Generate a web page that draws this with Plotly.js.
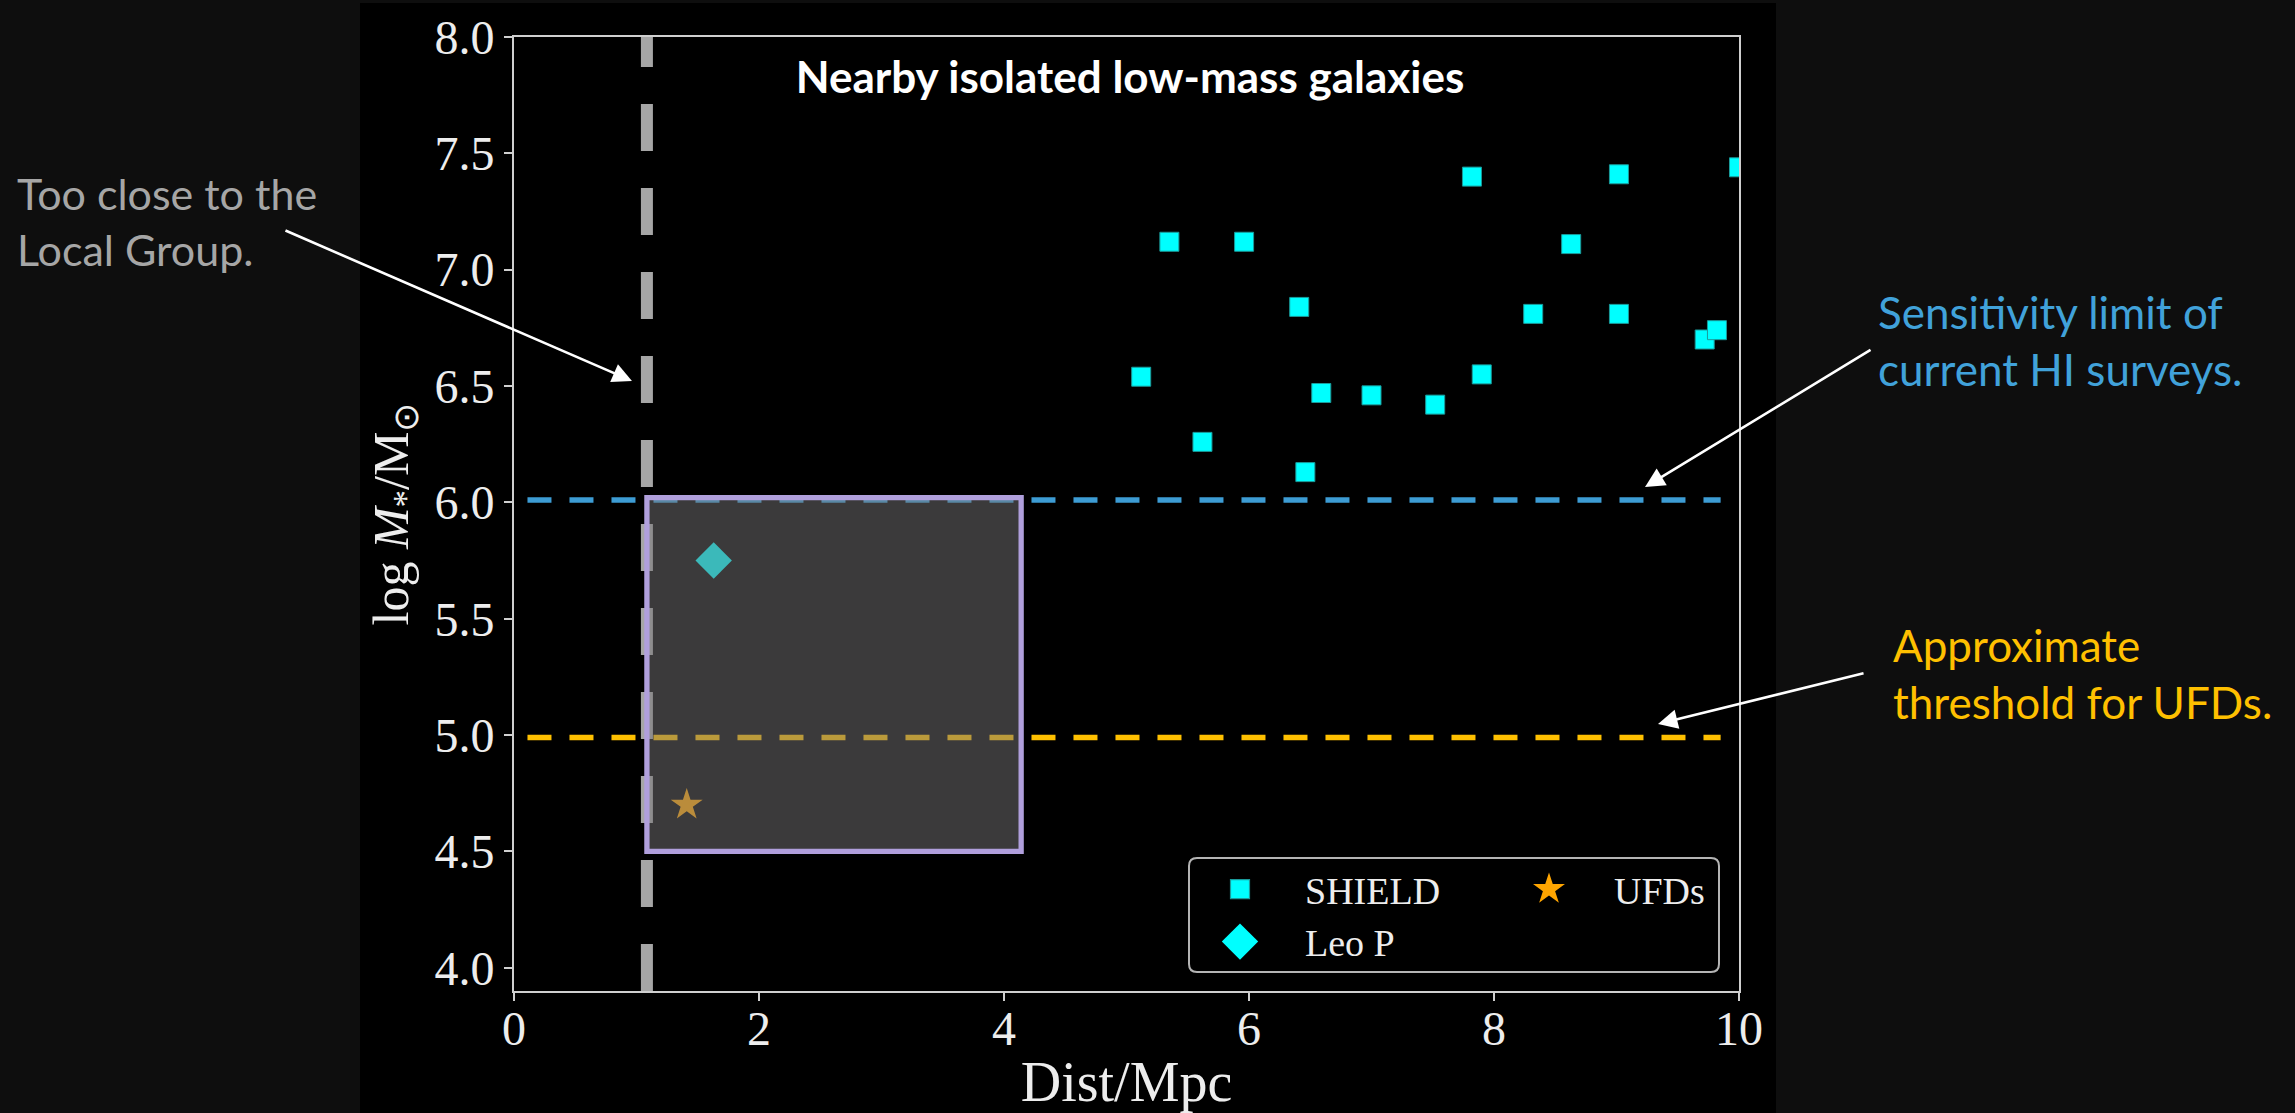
<!DOCTYPE html>
<html>
<head>
<meta charset="utf-8">
<script src="https://cdn.plot.ly/plotly-3.0.1.min.js"></script>
<style>
  html, body { margin: 0; padding: 0; background: #0e0e0e; }
  #chart { width: 2295px; height: 1113px; }
</style>
</head>
<body>
<div id="chart"></div>
<script>
// SHIELD galaxies: distance (Mpc) and log stellar mass (Msun)
const shieldDist = [5.12, 5.35, 5.62, 5.96, 6.41, 6.46, 6.59, 7.00, 7.52, 7.82, 7.90, 8.32, 8.63, 9.02, 9.02, 9.72, 9.82, 10.0];
const shieldLogM = [6.54, 7.12, 6.26, 7.12, 6.84, 6.13, 6.47, 6.46, 6.42, 7.40, 6.55, 6.81, 7.11, 7.41, 6.81, 6.70, 6.74, 7.44];

// Leo P
const leoPDist = [1.63];
const leoPLogM = [5.75];

// ultra-faint dwarfs
const ufdDist = [1.41];
const ufdLogM = [4.70];

// reference limits
const localGroupDist = [1.085, 1.085];
const localGroupSpan = [3.9, 8.3];
const limitDist = [0.11, 9.85];
const hiLimit = [6.01, 6.01];
const ufdLimit = [4.99, 4.99];

// target window: distance and mass bounds
const windowDist = [1.085, 4.14];
const windowLogM = [4.5, 6.02];

// axis ticks
const xTicks = [0, 2, 4, 6, 8, 10];
const yTicks = [4.0, 4.5, 5.0, 5.5, 6.0, 6.5, 7.0, 7.5, 8.0];

// figure geometry (px)
const W = 2295, H = 1113;
const M = { l: 514, r: 556, t: 37, b: 122 };
const PW = W - M.l - M.r, PH = H - M.t - M.b;
const X = v => (v - M.l) / PW;          // pixel column -> paper x
const Y = v => (H - M.b - v) / PH;      // pixel row -> paper y

const serif = 'Liberation Serif, Times New Roman, serif';
const sans = 'Lato, Open Sans, sans-serif';

const traces = [
  {
    x: localGroupDist, y: localGroupSpan, mode: 'lines',
    line: { color: '#a6a6a6', width: 12, dash: '47px,37px' },
    showlegend: false, hoverinfo: 'skip'
  },
  {
    x: limitDist, y: hiLimit, mode: 'lines',
    line: { color: '#3d9cd4', width: 5.5, dash: '24px,18px' },
    showlegend: false, hoverinfo: 'skip'
  },
  {
    x: limitDist, y: ufdLimit, mode: 'lines',
    line: { color: '#ffc000', width: 5.5, dash: '24px,18px' },
    showlegend: false, hoverinfo: 'skip'
  },
  {
    x: shieldDist, y: shieldLogM, mode: 'markers', name: 'SHIELD',
    marker: { symbol: 'square', size: 19, color: '#00ffff', line: { color: '#1a9a9a', width: 1 } },
    legend: 'legend'
  },
  {
    x: leoPDist, y: leoPLogM, mode: 'markers', name: 'Leo P',
    marker: { symbol: 'diamond', size: 28, color: '#00ffff', line: { width: 0 } },
    legend: 'legend'
  },
  {
    x: ufdDist, y: ufdLogM, mode: 'markers', name: 'UFDs',
    marker: { symbol: 'star', size: 24, color: '#ffa500', line: { width: 0 } },
    legend: 'legend2'
  }
];

// rounded legend frame
const fx0 = 1189, fx1 = 1719, fy0 = 858, fy1 = 972, fr = 8;
const framePath =
  `M ${X(fx0 + fr)},${Y(fy0)} L ${X(fx1 - fr)},${Y(fy0)} Q ${X(fx1)},${Y(fy0)} ${X(fx1)},${Y(fy0 + fr)} ` +
  `L ${X(fx1)},${Y(fy1 - fr)} Q ${X(fx1)},${Y(fy1)} ${X(fx1 - fr)},${Y(fy1)} ` +
  `L ${X(fx0 + fr)},${Y(fy1)} Q ${X(fx0)},${Y(fy1)} ${X(fx0)},${Y(fy1 - fr)} ` +
  `L ${X(fx0)},${Y(fy0 + fr)} Q ${X(fx0)},${Y(fy0)} ${X(fx0 + fr)},${Y(fy0)} Z`;

const axisCommon = {
  showgrid: false, zeroline: false,
  showline: true, linecolor: '#cfcfcf', linewidth: 2, mirror: true,
  ticks: 'outside', ticklen: 8, tickwidth: 2, tickcolor: '#cfcfcf',
  tickfont: { family: serif, size: 48, color: '#ededed' }
};

const legendFont = { family: serif, size: 38, color: '#ededed' };

const layout = {
  width: W, height: H,
  margin: M,
  paper_bgcolor: '#0e0e0e',
  plot_bgcolor: '#000000',
  showlegend: true,
  title: {
    text: 'Nearby isolated low-mass galaxies',
    font: { family: sans, size: 44, color: '#ffffff', weight: 'bold' },
    x: X(1130), xref: 'paper', xanchor: 'center',
    y: Y(78), yref: 'paper', yanchor: 'middle'
  },
  xaxis: Object.assign({}, axisCommon, {
    range: [0, 10], tickvals: xTicks, ticklabelstandoff: -14,
    title: { text: 'Dist/Mpc', font: { family: serif, size: 56, color: '#ededed' }, standoff: 32 }
  }),
  yaxis: Object.assign({}, axisCommon, {
    range: [3.9, 8.0], tickvals: yTicks, tickformat: '.1f',
    title: { text: 'log <i>M</i><sub>*</sub>/M<sub>⊙</sub>', font: { family: serif, size: 50, color: '#ededed' }, standoff: 10 }
  }),
  legend: {
    x: X(1175), xanchor: 'left', y: Y(858), yanchor: 'top',
    bgcolor: 'rgba(0,0,0,0)', borderwidth: 0, itemwidth: 120,
    font: legendFont, tracegroupgap: 0
  },
  legend2: {
    x: X(1484), xanchor: 'left', y: Y(858), yanchor: 'top',
    bgcolor: 'rgba(0,0,0,0)', borderwidth: 0, itemwidth: 120,
    font: legendFont
  },
  shapes: [
    // black figure panel
    { type: 'rect', xref: 'paper', yref: 'paper', layer: 'below',
      x0: X(360), x1: X(1776), y0: Y(1113), y1: Y(3),
      fillcolor: '#000000', line: { width: 0 } },
    // target window
    { type: 'rect', xref: 'x', yref: 'y', layer: 'above',
      x0: windowDist[0], x1: windowDist[1], y0: windowLogM[0], y1: windowLogM[1],
      fillcolor: 'rgba(118,116,118,0.5)', line: { color: '#b09fdc', width: 5.3 } },
    // legend frame
    { type: 'path', xref: 'paper', yref: 'paper', layer: 'above',
      path: framePath, fillcolor: '#000000', line: { color: '#b4b4b4', width: 2 } }
  ],
  annotations: [
    { xref: 'paper', yref: 'paper', x: X(15), y: Y(221), xanchor: 'left', yanchor: 'middle', align: 'left',
      showarrow: false, text: 'Too close to the<br>Local Group.',
      font: { family: sans, size: 43, color: '#a6a6a6' } },
    { xref: 'paper', yref: 'paper', x: X(1876), y: Y(340), xanchor: 'left', yanchor: 'middle', align: 'left',
      showarrow: false, text: 'Sensitivity limit of<br>current HI surveys.',
      font: { family: sans, size: 44, color: '#41a2da' } },
    { xref: 'paper', yref: 'paper', x: X(1891), y: Y(673), xanchor: 'left', yanchor: 'middle', align: 'left',
      showarrow: false, text: 'Approximate<br>threshold for UFDs.',
      font: { family: sans, size: 44, color: '#ffc000' } },
    { xref: 'x', yref: 'y', x: 0.963, y: 6.522, text: '', showarrow: true,
      ax: -348, ay: -151, arrowhead: 2, arrowsize: 1.5, arrowwidth: 2.6, arrowcolor: '#ffffff' },
    { xref: 'x', yref: 'y', x: 9.233, y: 6.066, text: '', showarrow: true,
      ax: 227, ay: -138, arrowhead: 2, arrowsize: 1.5, arrowwidth: 2.6, arrowcolor: '#ffffff' },
    { xref: 'x', yref: 'y', x: 9.339, y: 5.048, text: '', showarrow: true,
      ax: 207, ay: -51, arrowhead: 2, arrowsize: 1.5, arrowwidth: 2.6, arrowcolor: '#ffffff' }
  ]
};

Plotly.newPlot('chart', traces, layout, { displayModeBar: false, staticPlot: true }).then(gd => {
  // legend glyphs are capped at 16px; bring them back to the trace marker size
  gd.querySelectorAll('g.traces').forEach(g => {
    const d = g.__data__;
    const tr = d && d[0] && d[0].trace;
    if (!tr || !tr.marker || !tr.marker.size) return;
    const k = tr.marker.size / 16;
    g.querySelectorAll('path.scatterpts').forEach(p => {
      const t = p.getAttribute('transform') || '';
      p.setAttribute('transform', t + ' scale(' + k + ')');
    });
  });
});
</script>
</body>
</html>
